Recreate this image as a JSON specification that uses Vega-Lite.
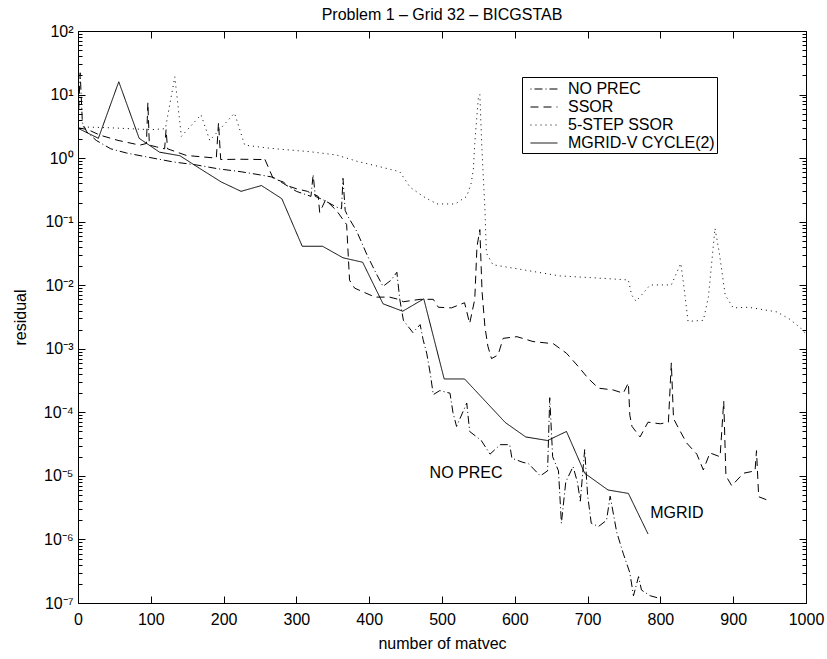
{
  "$schema": "https://vega.github.io/schema/vega-lite/v6.json",
  "width": 728,
  "height": 572,
  "autosize": {"type": "none"},
  "padding": {"left": 78, "top": 31, "right": 21, "bottom": 56},
  "background": "white",
  "title": {"text": "Problem 1 – Grid 32 – BICGSTAB", "fontSize": 16, "font": "Liberation Sans", "fontWeight": "normal", "color": "black", "baseline": "alphabetic", "offset": 2, "dy": 15, "anchor": "middle"},
  "config": {
    "view": {"stroke": "black", "strokeWidth": 1},
    "font": "Liberation Sans",
    "axis": {"grid": false, "domainColor": "black", "tickColor": "black", "labelColor": "black", "titleColor": "black", "labelFont": "Liberation Sans", "titleFont": "Liberation Sans", "labelFontSize": 16, "titleFontSize": 16, "titleFontWeight": "normal", "tickWidth": 1, "domainWidth": 1, "labelFlush": false, "labelOverlap": false}
  },
  "data": {"values": [
    {"s":"NO PREC","x":0,"y":3.0},{"s":"NO PREC","x":3,"y":22},{"s":"NO PREC","x":6,"y":3.6},{"s":"NO PREC","x":12,"y":2.6},{"s":"NO PREC","x":25,"y":1.9},{"s":"NO PREC","x":45,"y":1.4},{"s":"NO PREC","x":67,"y":1.2},{"s":"NO PREC","x":103,"y":1.0},{"s":"NO PREC","x":131,"y":0.87},{"s":"NO PREC","x":163,"y":0.78},{"s":"NO PREC","x":192,"y":0.68},{"s":"NO PREC","x":224,"y":0.61},{"s":"NO PREC","x":252,"y":0.54},{"s":"NO PREC","x":268,"y":0.5},{"s":"NO PREC","x":282,"y":0.4},{"s":"NO PREC","x":300,"y":0.3},{"s":"NO PREC","x":320,"y":0.25},{"s":"NO PREC","x":323,"y":0.55},{"s":"NO PREC","x":326,"y":0.25},{"s":"NO PREC","x":337,"y":0.22},{"s":"NO PREC","x":355,"y":0.17},{"s":"NO PREC","x":362,"y":0.16},{"s":"NO PREC","x":364,"y":0.48},{"s":"NO PREC","x":367,"y":0.15},{"s":"NO PREC","x":371,"y":0.12},{"s":"NO PREC","x":383,"y":0.07},{"s":"NO PREC","x":390,"y":0.046},{"s":"NO PREC","x":397,"y":0.03},{"s":"NO PREC","x":410,"y":0.015},{"s":"NO PREC","x":419,"y":0.0096},{"s":"NO PREC","x":430,"y":0.012},{"s":"NO PREC","x":438,"y":0.016},{"s":"NO PREC","x":442,"y":0.006},{"s":"NO PREC","x":447,"y":0.0028},{"s":"NO PREC","x":460,"y":0.0018},{"s":"NO PREC","x":470,"y":0.0024},{"s":"NO PREC","x":474,"y":0.0014},{"s":"NO PREC","x":479,"y":0.00085},{"s":"NO PREC","x":484,"y":0.0004},{"s":"NO PREC","x":488,"y":0.00019},{"s":"NO PREC","x":497,"y":0.00022},{"s":"NO PREC","x":511,"y":0.0002},{"s":"NO PREC","x":515,"y":0.0001},{"s":"NO PREC","x":520,"y":0.00006},{"s":"NO PREC","x":534,"y":0.00014},{"s":"NO PREC","x":538,"y":0.00005},{"s":"NO PREC","x":554,"y":0.000036},{"s":"NO PREC","x":566,"y":0.000022},{"s":"NO PREC","x":580,"y":0.000031},{"s":"NO PREC","x":593,"y":0.000031},{"s":"NO PREC","x":596,"y":0.000019},{"s":"NO PREC","x":610,"y":0.0000165},{"s":"NO PREC","x":619,"y":0.0000155},{"s":"NO PREC","x":635,"y":0.00001},{"s":"NO PREC","x":645,"y":0.000012},{"s":"NO PREC","x":648,"y":0.00017},{"s":"NO PREC","x":652,"y":0.00002},{"s":"NO PREC","x":660,"y":0.000012},{"s":"NO PREC","x":664,"y":0.0000018},{"s":"NO PREC","x":670,"y":0.000008},{"s":"NO PREC","x":680,"y":0.000014},{"s":"NO PREC","x":686,"y":0.000008},{"s":"NO PREC","x":690,"y":0.000004},{"s":"NO PREC","x":696,"y":0.000026},{"s":"NO PREC","x":700,"y":0.000005},{"s":"NO PREC","x":705,"y":0.0000018},{"s":"NO PREC","x":715,"y":0.0000016},{"s":"NO PREC","x":726,"y":0.000002},{"s":"NO PREC","x":731,"y":0.0000048},{"s":"NO PREC","x":740,"y":0.0000013},{"s":"NO PREC","x":749,"y":0.0000006},{"s":"NO PREC","x":758,"y":0.0000003},{"s":"NO PREC","x":763,"y":0.00000013},{"s":"NO PREC","x":770,"y":0.00000026},{"s":"NO PREC","x":774,"y":0.00000016},{"s":"NO PREC","x":786,"y":0.00000013},{"s":"NO PREC","x":797,"y":0.00000012},

    {"s":"SSOR","x":0,"y":3.0},{"s":"SSOR","x":14,"y":2.8},{"s":"SSOR","x":30,"y":2.3},{"s":"SSOR","x":55,"y":1.9},{"s":"SSOR","x":85,"y":1.6},{"s":"SSOR","x":94,"y":1.7},{"s":"SSOR","x":96,"y":7.5},{"s":"SSOR","x":98,"y":1.6},{"s":"SSOR","x":108,"y":1.5},{"s":"SSOR","x":119,"y":1.4},{"s":"SSOR","x":121,"y":2.8},{"s":"SSOR","x":123,"y":1.4},{"s":"SSOR","x":149,"y":1.1},{"s":"SSOR","x":190,"y":1.0},{"s":"SSOR","x":193,"y":3.6},{"s":"SSOR","x":196,"y":0.95},{"s":"SSOR","x":222,"y":0.96},{"s":"SSOR","x":254,"y":0.95},{"s":"SSOR","x":256,"y":1.0},{"s":"SSOR","x":268,"y":0.48},{"s":"SSOR","x":282,"y":0.42},{"s":"SSOR","x":290,"y":0.36},{"s":"SSOR","x":300,"y":0.33},{"s":"SSOR","x":315,"y":0.3},{"s":"SSOR","x":330,"y":0.25},{"s":"SSOR","x":332,"y":0.14},{"s":"SSOR","x":340,"y":0.22},{"s":"SSOR","x":355,"y":0.15},{"s":"SSOR","x":369,"y":0.09},{"s":"SSOR","x":373,"y":0.012},{"s":"SSOR","x":380,"y":0.009},{"s":"SSOR","x":390,"y":0.008},{"s":"SSOR","x":408,"y":0.0065},{"s":"SSOR","x":428,"y":0.0065},{"s":"SSOR","x":440,"y":0.006},{"s":"SSOR","x":447,"y":0.0055},{"s":"SSOR","x":470,"y":0.006},{"s":"SSOR","x":488,"y":0.006},{"s":"SSOR","x":495,"y":0.0045},{"s":"SSOR","x":513,"y":0.0044},{"s":"SSOR","x":531,"y":0.0053},{"s":"SSOR","x":538,"y":0.0025},{"s":"SSOR","x":545,"y":0.006},{"s":"SSOR","x":548,"y":0.04},{"s":"SSOR","x":552,"y":0.075},{"s":"SSOR","x":555,"y":0.008},{"s":"SSOR","x":559,"y":0.0022},{"s":"SSOR","x":563,"y":0.0011},{"s":"SSOR","x":568,"y":0.0007},{"s":"SSOR","x":577,"y":0.0008},{"s":"SSOR","x":584,"y":0.00146},{"s":"SSOR","x":603,"y":0.00155},{"s":"SSOR","x":625,"y":0.0013},{"s":"SSOR","x":653,"y":0.0012},{"s":"SSOR","x":671,"y":0.00085},{"s":"SSOR","x":687,"y":0.00053},{"s":"SSOR","x":701,"y":0.00034},{"s":"SSOR","x":715,"y":0.00024},{"s":"SSOR","x":735,"y":0.000225},{"s":"SSOR","x":749,"y":0.0002},{"s":"SSOR","x":756,"y":0.00029},{"s":"SSOR","x":758,"y":0.00009},{"s":"SSOR","x":761,"y":0.00006},{"s":"SSOR","x":772,"y":0.000041},{"s":"SSOR","x":783,"y":0.00007},{"s":"SSOR","x":800,"y":0.000066},{"s":"SSOR","x":811,"y":0.00007},{"s":"SSOR","x":815,"y":0.0006},{"s":"SSOR","x":818,"y":0.00008},{"s":"SSOR","x":825,"y":0.000056},{"s":"SSOR","x":836,"y":0.000033},{"s":"SSOR","x":850,"y":0.000022},{"s":"SSOR","x":859,"y":0.0000124},{"s":"SSOR","x":868,"y":0.000023},{"s":"SSOR","x":882,"y":0.00002},{"s":"SSOR","x":887,"y":0.00015},{"s":"SSOR","x":890,"y":0.00001},{"s":"SSOR","x":898,"y":0.000007},{"s":"SSOR","x":914,"y":0.000011},{"s":"SSOR","x":930,"y":0.000012},{"s":"SSOR","x":932,"y":0.000025},{"s":"SSOR","x":935,"y":0.0000047},{"s":"SSOR","x":946,"y":0.0000042},

    {"s":"5-STEP SSOR","x":0,"y":3.2},{"s":"5-STEP SSOR","x":5,"y":3.1},{"s":"5-STEP SSOR","x":44,"y":3.0},{"s":"5-STEP SSOR","x":100,"y":2.8},{"s":"5-STEP SSOR","x":120,"y":2.9},{"s":"5-STEP SSOR","x":133,"y":19},{"s":"5-STEP SSOR","x":142,"y":2.2},{"s":"5-STEP SSOR","x":169,"y":4.8},{"s":"5-STEP SSOR","x":181,"y":1.9},{"s":"5-STEP SSOR","x":215,"y":5.1},{"s":"5-STEP SSOR","x":229,"y":1.6},{"s":"5-STEP SSOR","x":263,"y":1.43},{"s":"5-STEP SSOR","x":291,"y":1.34},{"s":"5-STEP SSOR","x":319,"y":1.26},{"s":"5-STEP SSOR","x":355,"y":1.12},{"s":"5-STEP SSOR","x":385,"y":0.88},{"s":"5-STEP SSOR","x":415,"y":0.73},{"s":"5-STEP SSOR","x":442,"y":0.61},{"s":"5-STEP SSOR","x":456,"y":0.35},{"s":"5-STEP SSOR","x":474,"y":0.25},{"s":"5-STEP SSOR","x":493,"y":0.19},{"s":"5-STEP SSOR","x":518,"y":0.19},{"s":"5-STEP SSOR","x":534,"y":0.25},{"s":"5-STEP SSOR","x":540,"y":0.4},{"s":"5-STEP SSOR","x":543,"y":0.65},{"s":"5-STEP SSOR","x":545,"y":1.7},{"s":"5-STEP SSOR","x":550,"y":9.2},{"s":"5-STEP SSOR","x":552,"y":10},{"s":"5-STEP SSOR","x":554.5,"y":1.7},{"s":"5-STEP SSOR","x":559,"y":0.15},{"s":"5-STEP SSOR","x":561,"y":0.032},{"s":"5-STEP SSOR","x":570,"y":0.021},{"s":"5-STEP SSOR","x":662,"y":0.014},{"s":"5-STEP SSOR","x":708,"y":0.0131},{"s":"5-STEP SSOR","x":756,"y":0.0121},{"s":"5-STEP SSOR","x":760.5,"y":0.007},{"s":"5-STEP SSOR","x":766.5,"y":0.0056},{"s":"5-STEP SSOR","x":774,"y":0.007},{"s":"5-STEP SSOR","x":786,"y":0.0101},{"s":"5-STEP SSOR","x":815,"y":0.0101},{"s":"5-STEP SSOR","x":828,"y":0.022},{"s":"5-STEP SSOR","x":832,"y":0.0101},{"s":"5-STEP SSOR","x":838,"y":0.0027},{"s":"5-STEP SSOR","x":859,"y":0.0028},{"s":"5-STEP SSOR","x":866,"y":0.0066},{"s":"5-STEP SSOR","x":875,"y":0.0785},{"s":"5-STEP SSOR","x":881,"y":0.032},{"s":"5-STEP SSOR","x":889,"y":0.007},{"s":"5-STEP SSOR","x":900,"y":0.0044},{"s":"5-STEP SSOR","x":921,"y":0.0045},{"s":"5-STEP SSOR","x":960,"y":0.0038},{"s":"5-STEP SSOR","x":978,"y":0.0029},{"s":"5-STEP SSOR","x":993,"y":0.0021},{"s":"5-STEP SSOR","x":1000,"y":0.0017},

    {"s":"MGRID-V CYCLE(2)","x":0,"y":2.95},{"s":"MGRID-V CYCLE(2)","x":28,"y":2.05},{"s":"MGRID-V CYCLE(2)","x":56,"y":15.9},{"s":"MGRID-V CYCLE(2)","x":84,"y":2.05},{"s":"MGRID-V CYCLE(2)","x":112,"y":1.24},{"s":"MGRID-V CYCLE(2)","x":140,"y":1.09},{"s":"MGRID-V CYCLE(2)","x":167,"y":0.69},{"s":"MGRID-V CYCLE(2)","x":197,"y":0.42},{"s":"MGRID-V CYCLE(2)","x":224,"y":0.3},{"s":"MGRID-V CYCLE(2)","x":252,"y":0.37},{"s":"MGRID-V CYCLE(2)","x":280,"y":0.23},{"s":"MGRID-V CYCLE(2)","x":308,"y":0.041},{"s":"MGRID-V CYCLE(2)","x":336,"y":0.041},{"s":"MGRID-V CYCLE(2)","x":364,"y":0.027},{"s":"MGRID-V CYCLE(2)","x":391,"y":0.023},{"s":"MGRID-V CYCLE(2)","x":419,"y":0.0051},{"s":"MGRID-V CYCLE(2)","x":446,"y":0.0039},{"s":"MGRID-V CYCLE(2)","x":475,"y":0.0061},{"s":"MGRID-V CYCLE(2)","x":503,"y":0.000335},{"s":"MGRID-V CYCLE(2)","x":531,"y":0.000335},{"s":"MGRID-V CYCLE(2)","x":587,"y":0.000069},{"s":"MGRID-V CYCLE(2)","x":615,"y":0.000041},{"s":"MGRID-V CYCLE(2)","x":645,"y":0.000036},{"s":"MGRID-V CYCLE(2)","x":671,"y":0.00005},{"s":"MGRID-V CYCLE(2)","x":696,"y":0.000011},{"s":"MGRID-V CYCLE(2)","x":728,"y":0.000006},{"s":"MGRID-V CYCLE(2)","x":756,"y":0.0000053},{"s":"MGRID-V CYCLE(2)","x":783,"y":0.00000122}
  ]},
  "layer": [
    {
      "mark": {"type": "line", "strokeWidth": 1, "color": "black", "clip": true},
      "encoding": {
        "x": {"field": "x", "type": "quantitative", "scale": {"domain": [0, 1000], "nice": false, "zero": false},
          "axis": {"orient": "bottom", "values": [0,100,200,300,400,500,600,700,800,900,1000], "format": "d", "tickSize": -7, "labelPadding": 15, "title": "number of matvec", "titleX": 364, "titleY": 45, "titleBaseline": "alphabetic"}},
        "y": {"field": "y", "type": "quantitative", "scale": {"type": "log", "domain": [1e-7, 100], "nice": false},
          "axis": {"orient": "left",
            "values": [1e-7,2e-7,3e-7,4e-7,5e-7,6e-7,7e-7,8e-7,9e-7,1e-6,2e-6,3e-6,4e-6,5e-6,6e-6,7e-6,8e-6,9e-6,1e-5,2e-5,3e-5,4e-5,5e-5,6e-5,7e-5,8e-5,9e-5,1e-4,2e-4,3e-4,4e-4,5e-4,6e-4,7e-4,8e-4,9e-4,0.001,0.002,0.003,0.004,0.005,0.006,0.007,0.008,0.009,0.01,0.02,0.03,0.04,0.05,0.06,0.07,0.08,0.09,0.1,0.2,0.3,0.4,0.5,0.6,0.7,0.8,0.9,1,2,3,4,5,6,7,8,9,10,20,30,40,50,60,70,80,90,100],
            "tickSize": {"condition": {"test": "abs(log(datum.value)/LN10 - round(log(datum.value)/LN10)) < 0.000001", "value": -7}, "value": -4},
            "labelPadding": 12,
            "labelExpr": "abs(log(datum.value)/LN10 - round(log(datum.value)/LN10)) < 0.000001 ? '10' + ['⁻⁷','⁻⁶','⁻⁵','⁻⁴','⁻³','⁻²','⁻¹','⁰','¹','²'][round(log(datum.value)/LN10) + 7] : ''",
            "title": "residual", "titleX": -53, "titleY": 286, "titleBaseline": "alphabetic", "titleAngle": -90}},
        "strokeDash": {"field": "s", "type": "nominal",
          "scale": {"domain": ["NO PREC", "SSOR", "5-STEP SSOR", "MGRID-V CYCLE(2)"], "range": [[1,3,8,3],[8,5],[1,4],[1,0]]},
          "legend": {"orient": "none", "legendX": 444, "legendY": 46, "title": null, "symbolType": "M-0.37,0H2.47", "symbolSize": 361, "symbolStrokeWidth": 1, "symbolStrokeColor": "black", "labelFontSize": 16, "labelFont": "Liberation Sans", "labelColor": "black", "labelOffset": 24, "padding": 2, "rowPadding": 0, "strokeColor": "black", "fillColor": "white", "labelLimit": 300}}
      }
    },
    {
      "data": {"values": [{"x": 483, "y": 0.000011, "label": "NO PREC"}, {"x": 786, "y": 0.0000026, "label": "MGRID"}]},
      "mark": {"type": "text", "align": "left", "baseline": "middle", "fontSize": 16, "font": "Liberation Sans", "color": "black"},
      "encoding": {
        "x": {"field": "x", "type": "quantitative", "scale": {"domain": [0, 1000], "nice": false, "zero": false},
          "axis": {"orient": "top", "values": [0,100,200,300,400,500,600,700,800,900,1000], "tickSize": -7, "labels": false, "title": null}},
        "y": {"field": "y", "type": "quantitative", "scale": {"type": "log", "domain": [1e-7, 100], "nice": false},
          "axis": {"orient": "right",
            "values": [1e-7,2e-7,3e-7,4e-7,5e-7,6e-7,7e-7,8e-7,9e-7,1e-6,2e-6,3e-6,4e-6,5e-6,6e-6,7e-6,8e-6,9e-6,1e-5,2e-5,3e-5,4e-5,5e-5,6e-5,7e-5,8e-5,9e-5,1e-4,2e-4,3e-4,4e-4,5e-4,6e-4,7e-4,8e-4,9e-4,0.001,0.002,0.003,0.004,0.005,0.006,0.007,0.008,0.009,0.01,0.02,0.03,0.04,0.05,0.06,0.07,0.08,0.09,0.1,0.2,0.3,0.4,0.5,0.6,0.7,0.8,0.9,1,2,3,4,5,6,7,8,9,10,20,30,40,50,60,70,80,90,100],
            "tickSize": {"condition": {"test": "abs(log(datum.value)/LN10 - round(log(datum.value)/LN10)) < 0.000001", "value": -7}, "value": -4},
            "labels": false, "title": null}},
        "text": {"field": "label", "type": "nominal"}
      }
    }
  ],
  "resolve": {"axis": {"x": "independent", "y": "independent"}}
}
